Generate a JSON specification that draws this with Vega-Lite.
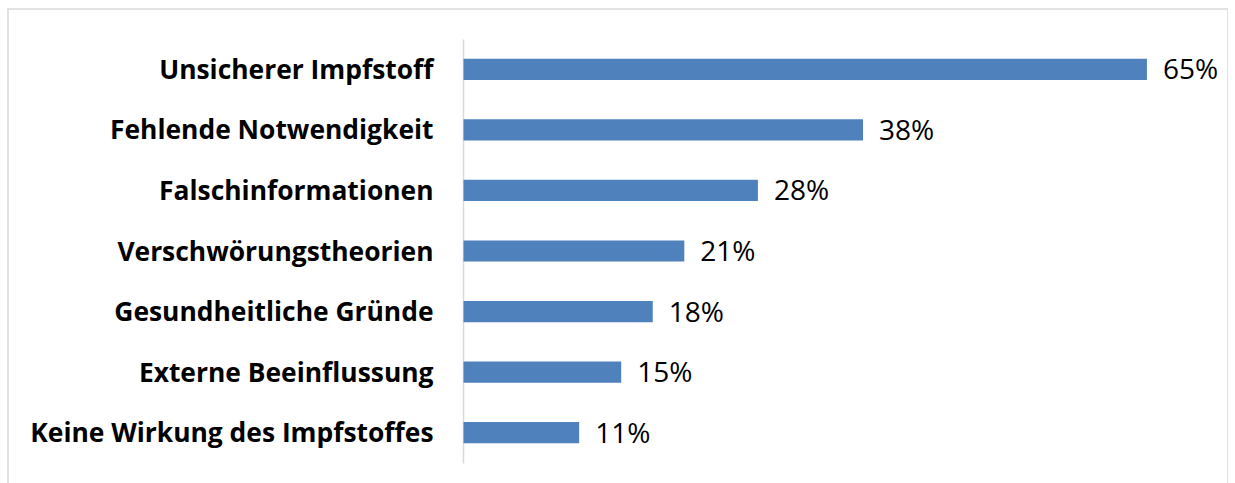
{
  "$schema": "https://vega.github.io/schema/vega-lite/v6.json",
  "autosize": {"type": "none"},
  "padding": {"left": 8, "top": 9, "right": 0, "bottom": 0},
  "width": 1220,
  "height": 490,
  "background": "white",
  "config": {
    "view": {"stroke": "#d9d9d9", "strokeWidth": 1.5, "fill": "white"}
  },
  "data": {
    "values": [
      {"grund": "Unsicherer Impfstoff", "anteil": 0.65},
      {"grund": "Fehlende Notwendigkeit", "anteil": 0.38},
      {"grund": "Falschinformationen", "anteil": 0.28},
      {"grund": "Verschwörungstheorien", "anteil": 0.21},
      {"grund": "Gesundheitliche Gründe", "anteil": 0.18},
      {"grund": "Externe Beeinflussung", "anteil": 0.15},
      {"grund": "Keine Wirkung des Impfstoffes", "anteil": 0.11}
    ]
  },
  "encoding": {
    "y": {
      "field": "grund",
      "type": "nominal",
      "sort": null,
      "scale": {"range": [30, 454], "paddingInner": 0.65, "paddingOuter": 0.325},
      "axis": {
        "title": null,
        "offset": -455,
        "ticks": false,
        "grid": false,
        "domainColor": "#d9d9d9",
        "domainWidth": 1.5,
        "labelPadding": 30,
        "labelOffset": 1.5,
        "labelFont": "Open Sans",
        "labelFontSize": 26.4,
        "labelFontWeight": "bold",
        "labelColor": "black",
        "labelLimit": 0
      }
    },
    "x": {
      "field": "anteil",
      "type": "quantitative",
      "scale": {"domain": [0, 0.7], "range": [455.5, 1191.5], "nice": false},
      "axis": null
    }
  },
  "layer": [
    {"mark": {"type": "bar", "color": "#4f81bd"}},
    {
      "mark": {"type": "text", "align": "left", "baseline": "middle", "dx": 16, "dy": 2, "font": "Open Sans", "fontSize": 28, "color": "black"},
      "encoding": {"text": {"field": "anteil", "type": "quantitative", "format": ".0%"}}
    }
  ]
}
